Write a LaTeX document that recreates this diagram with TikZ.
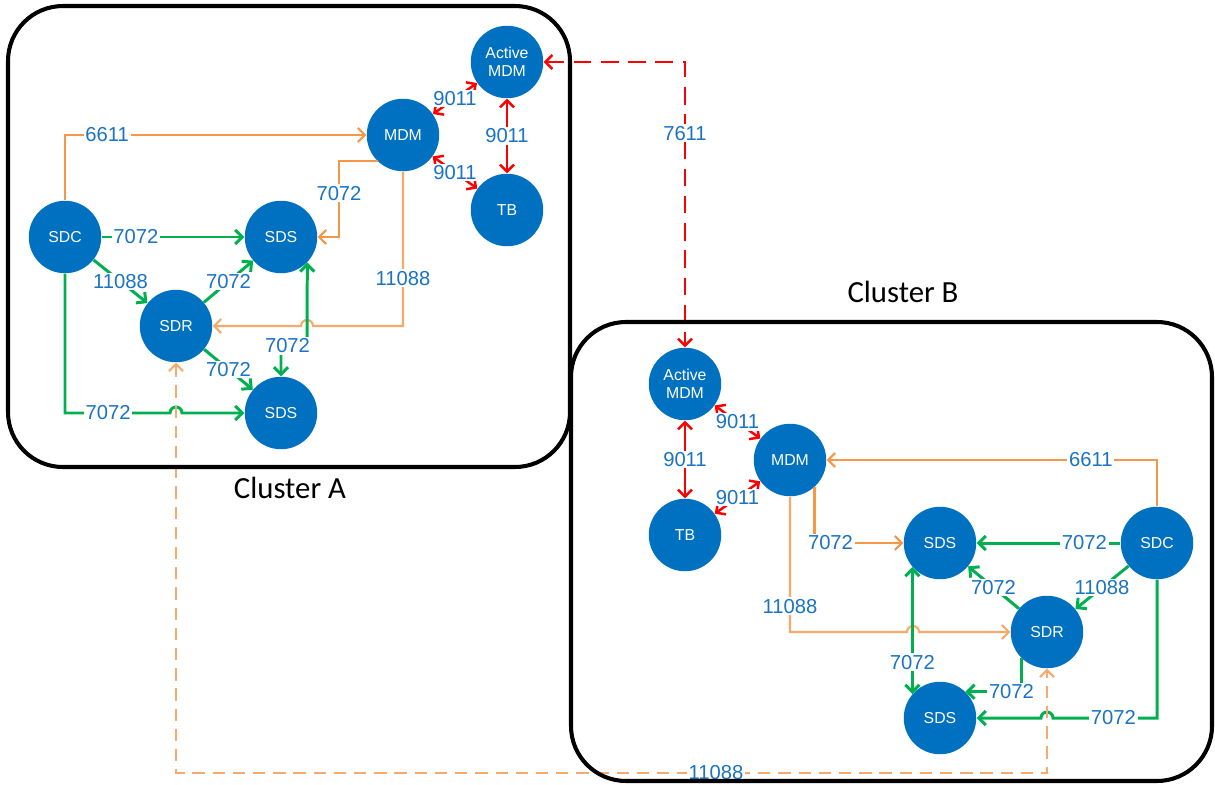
\documentclass[tikz,border=0pt]{standalone}
\usepackage{fontspec}
\setmainfont{Liberation Sans}
\newfontfamily\titlefont{Carlito}
\usetikzlibrary{arrows.meta,positioning}

\definecolor{nodeblue}{HTML}{0070C0}
\definecolor{portblue}{HTML}{1A73C4}
\definecolor{mgmtred}{HTML}{FF0000}
\definecolor{datagreen}{HTML}{00B050}
\definecolor{ctlorange}{HTML}{F79646}
\definecolor{lightorange}{HTML}{F8AA6C}

\tikzset{
  host/.style={circle,fill=nodeblue,minimum size=1.45cm,inner sep=0pt,
    text=white,align=center,font=\fontsize{9}{10.4}\selectfont},
  port/.style={fill=white,inner sep=1pt,text=portblue,
    font=\fontsize{11.5}{12}\selectfont},
  redlink/.style={draw=mgmtred,line width=1.4pt,<->},
  grnlink/.style={draw=datagreen,line width=1.7pt,->},
  orglink/.style={draw=ctlorange,line width=1.2pt,->},
  lorglink/.style={draw=lightorange,line width=1.2pt,->},
  cluster/.style={draw=black,line width=2.3pt,rounded corners=1.1cm},
  title/.style={font=\titlefont\fontsize{17.5}{20}\selectfont},
}

\begin{document}
\begin{tikzpicture}[x=0.02cm,y=-0.02cm,>={Straight Barb[length=4pt,width=8pt]}]
  \useasboundingbox (0,0) rectangle (1215,785);

  % cluster A
  \node[host] (actA) at (507,62) {Active\\MDM};
  \node[host] (mdmA) at (403,135) {MDM};
  \node[host] (tbA) at (507,210) {TB};
  \node[host] (sdcA) at (65,237) {SDC};
  \node[host] (sdsA1) at (281,237) {SDS};
  \node[host] (sdrA) at (176,326) {SDR};
  \node[host] (sdsA2) at (281,413) {SDS};

  % cluster B
  \node[host] (actB) at (685,384) {Active\\MDM};
  \node[host] (mdmB) at (790,460) {MDM};
  \node[host] (tbB) at (685,535) {TB};
  \node[host] (sdsB1) at (940,543) {SDS};
  \node[host] (sdcB) at (1157,543) {SDC};
  \node[host] (sdrB) at (1047,632) {SDR};
  \node[host] (sdsB2) at (940,718) {SDS};

  % links in A
  \draw[orglink] (sdcA.north) |- node[port,pos=0.57]{6611} (mdmA.west);
  \draw[orglink] (mdmA.226) -| node[port,pos=0.71]{7072} (339,237) -- (sdsA1.east);
  \draw[lorglink] (mdmA.south) -- node[port,pos=0.69]{11088} (403,326) -- (313,326)
    arc[start angle=0,end angle=180,radius=0.12cm] -- (sdrA.east);
  \draw[grnlink] (sdcA) -- node[port,pos=0.24]{7072} (sdsA1);
  \draw[grnlink] (sdcA) -- node[port]{11088} (sdrA);
  \draw[grnlink] (sdrA) -- node[port]{7072} (sdsA1);
  \draw[grnlink] (sdrA) -- node[port]{7072} (sdsA2);
  \draw[grnlink,<->] (sdsA1.316) -- (307,346) -- node[port,pos=0.75]{7072} (281,346) -- (sdsA2.north);
  \draw[grnlink] (sdcA.south) -- (65,413) -- node[port,pos=0.41]{7072} (170,413)
    arc[start angle=180,end angle=0,radius=0.12cm] -- (sdsA2.west);
  \draw[redlink] (mdmA) -- node[port]{9011} (actA);
  \draw[redlink] (actA) -- node[port]{9011} (tbA);
  \draw[redlink] (mdmA) -- node[port]{9011} (tbA);

  % links in B
  \draw[orglink] (sdcB.north) |- node[port,pos=0.6]{6611} (mdmB.east);
  \draw[orglink] (mdmB.312) |- node[port,pos=0.59]{7072} (sdsB1.west);
  \draw[lorglink] (mdmB.south) -- node[port,pos=0.81]{11088} (790,632) -- (907,632)
    arc[start angle=180,end angle=0,radius=0.12cm] -- (sdrB.west);
  \draw[grnlink] (sdcB) -- node[port,pos=0.25]{7072} (sdsB1);
  \draw[grnlink] (sdcB) -- node[port]{11088} (sdrB);
  \draw[grnlink] (sdrB) -- node[port]{7072} (sdsB1);
  \draw[grnlink,<->] (sdsB1.221) -- node[port,pos=0.75]{7072} (sdsB2.139);
  \draw[grnlink] (sdrB.226) |- node[port,pos=0.59]{7072} (sdsB2.46);
  \draw[grnlink] (sdcB.south) -- (1157,718) -- node[port,pos=0.42]{7072} (1053,718)
    arc[start angle=0,end angle=180,radius=0.12cm] -- (sdsB2.east);
  \draw[redlink] (actB) -- node[port]{9011} (mdmB);
  \draw[redlink] (actB) -- node[port]{9011} (tbB);
  \draw[redlink] (tbB) -- node[port]{9011} (mdmB);

  % between clusters
  \draw[redlink,dash pattern=on 10pt off 5.5pt] (actA.east) -| node[port,pos=0.625]{7611} (actB.north);
  \draw[lorglink,<->,dash pattern=on 7pt off 4.5pt] (sdrA.south) -- (176,773)
    -- node[port,pos=0.62]{11088} (1047,773) -- (sdrB.south);

  % cluster frames
  \draw[cluster] (8,6) rectangle (570,467);
  \draw[cluster] (571,322) rectangle (1212,781);
  \node[title] (ttlA) at (290,488) {Cluster A};
  \node[title] (ttlB) at (903,292) {Cluster B};
\end{tikzpicture}
\end{document}
